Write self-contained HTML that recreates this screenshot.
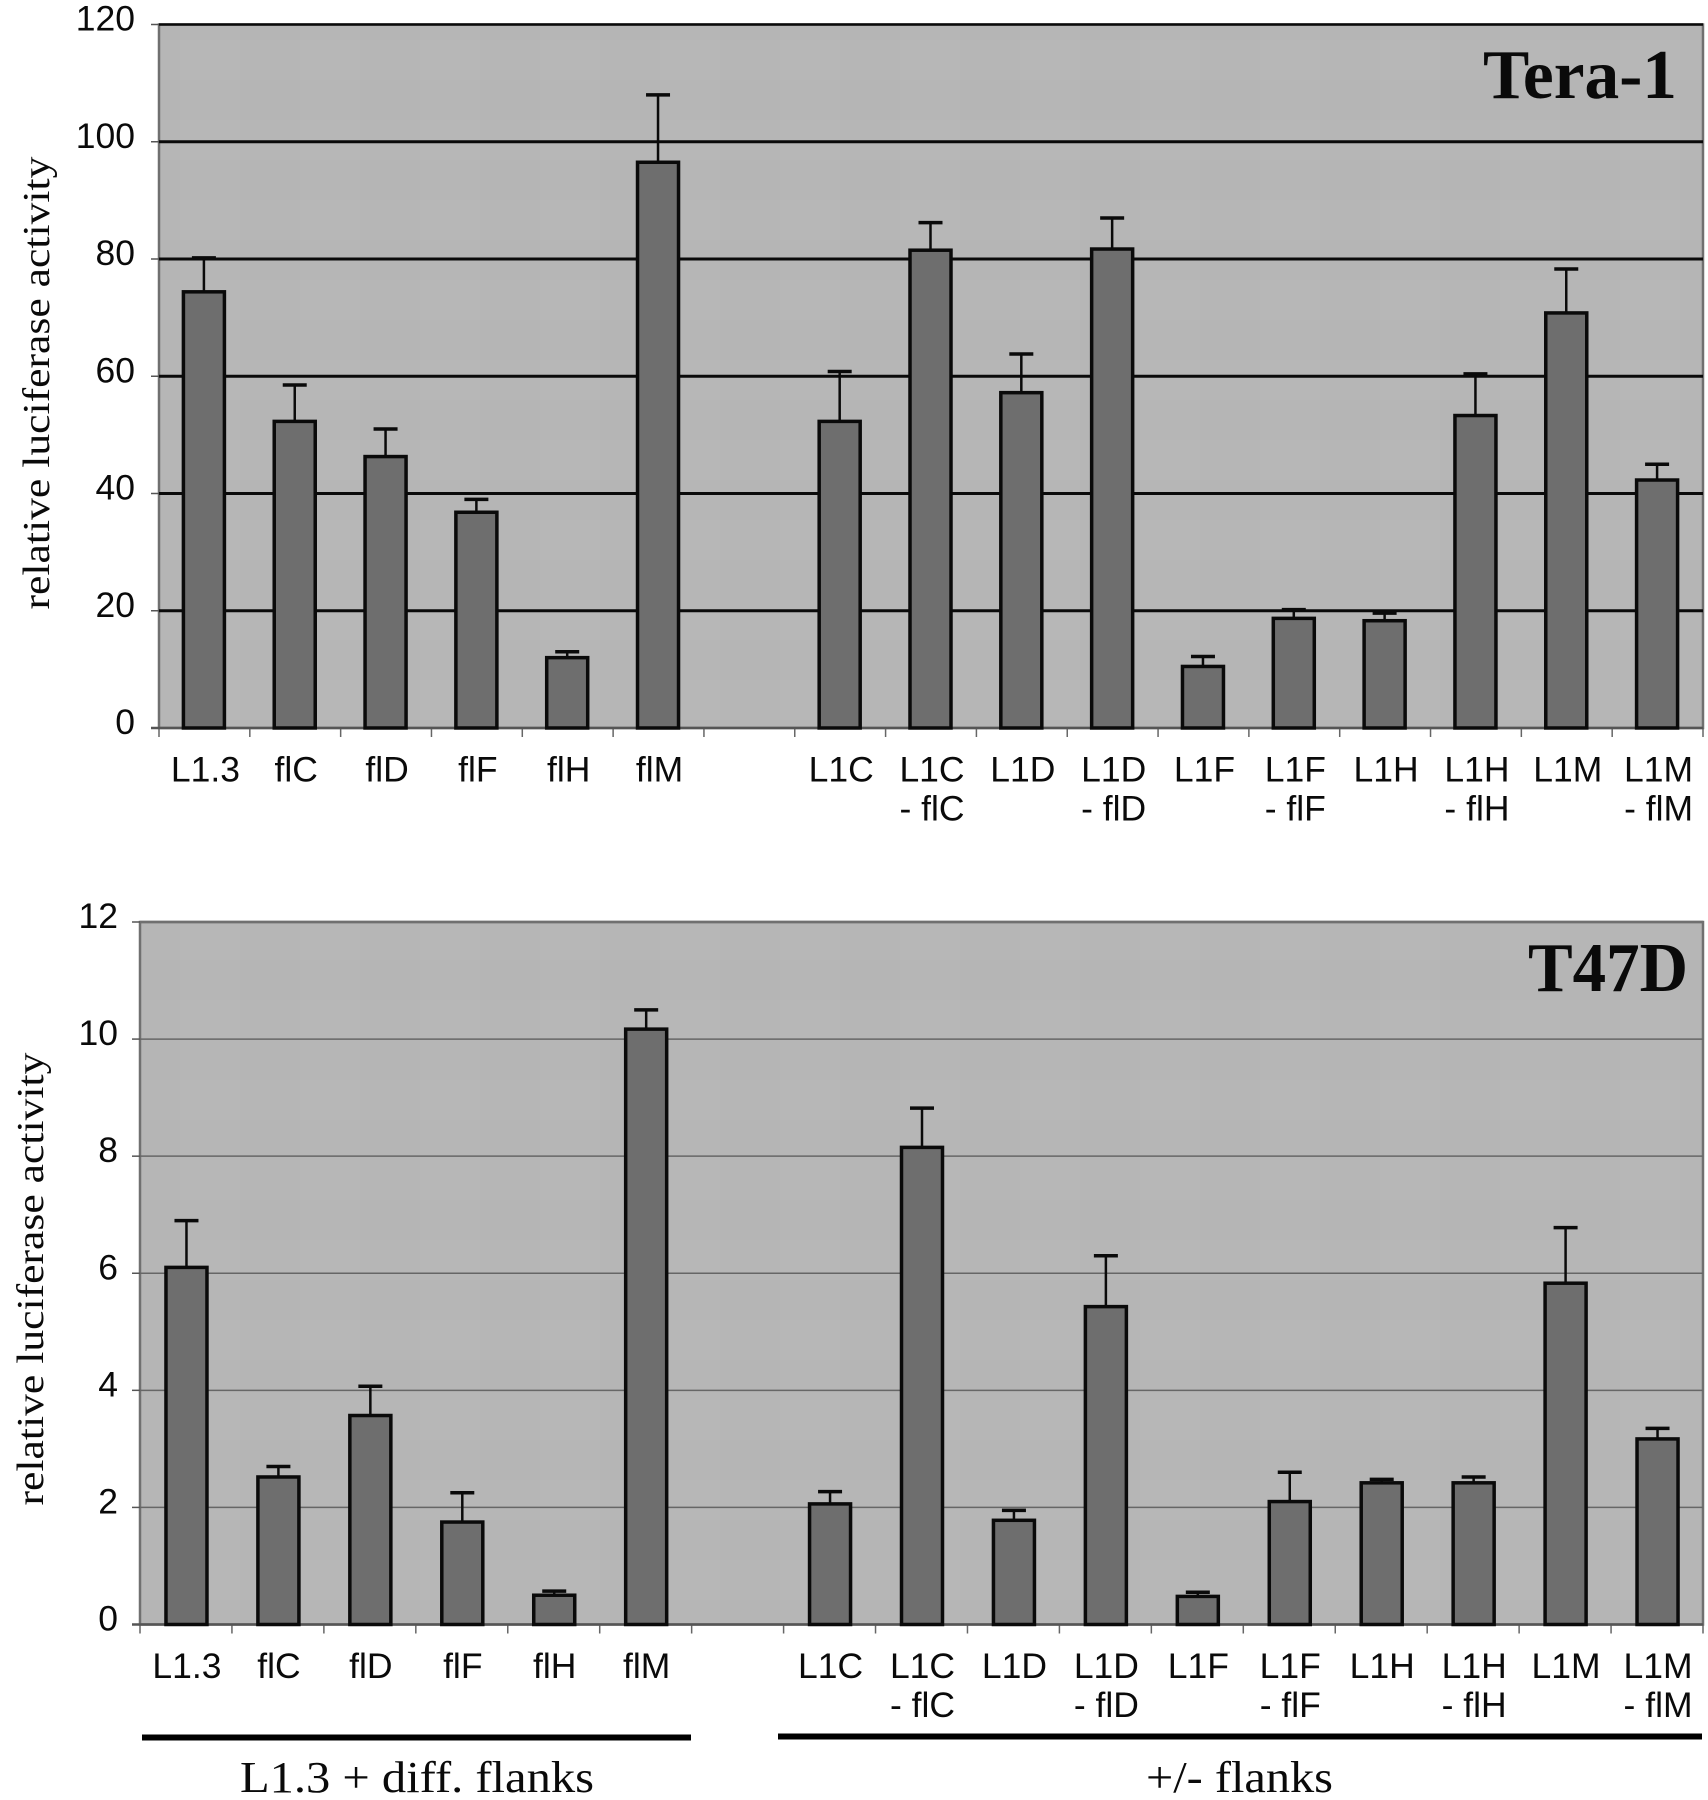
<!DOCTYPE html>
<html lang="en">
<head>
<meta charset="utf-8">
<title>Relative luciferase activity in Tera-1 and T47D</title>
<style>
  html, body { margin: 0; padding: 0; background: #ffffff; }
  body { width: 1708px; height: 1800px; overflow: hidden; }
  svg { display: block; font-variant-ligatures: none; }
  .sans { font-family: "Liberation Sans", sans-serif; fill: #0a0a0a; }
  .serif { font-family: "Liberation Serif", serif; fill: #0a0a0a; }
</style>
</head>
<body>
<svg id="figure" xmlns="http://www.w3.org/2000/svg" width="1708" height="1800" viewBox="0 0 1708 1800">
  <defs>
    <pattern id="panel-texture" width="120" height="80" patternUnits="userSpaceOnUse">
      <rect width="120" height="80" fill="#b6b6b6"></rect>
      <rect x="0" y="0" width="60" height="80" fill="#b3b3b3" opacity="0.3"></rect>
      <rect x="0" y="40" width="120" height="40" fill="#b9b9b9" opacity="0.3"></rect>
    </pattern>
  </defs>
  <g id="tera-panel"></g>
  <g id="t47d-panel"></g>
  <rect x="142" y="1734.5" width="549" height="6" fill="#000"></rect>
  <rect x="778" y="1733.5" width="924" height="6" fill="#000"></rect>
  <text class="serif" x="240" y="1792" font-size="44" textLength="354" lengthAdjust="spacingAndGlyphs">L1.3 + diff. flanks</text>
  <text class="serif" x="1146" y="1792" font-size="44" textLength="187" lengthAdjust="spacingAndGlyphs">+/- flanks</text>
</svg>
<script>
// Shared categories (an empty entry is the gap between the two groups)
const categoryLine1 = ["L1.3", "flC", "flD", "flF", "flH", "flM", "", "L1C", "L1C", "L1D", "L1D", "L1F", "L1F", "L1H", "L1H", "L1M", "L1M"];
const categoryLine2 = ["", "", "", "", "", "", "", "", "- flC", "", "- flD", "", "- flF", "", "- flH", "", "- flM"];

// Tera-1 data
const teraTicks = [0, 20, 40, 60, 80, 100, 120];
const teraValues = [74.4, 52.3, 46.3, 36.8, 12, 96.5, null, 52.3, 81.5, 57.2, 81.7, 10.5, 18.7, 18.3, 53.3, 70.8, 42.3];
const teraErrorTops = [80.2, 58.5, 51, 39, 13, 108, null, 60.8, 86.2, 63.8, 87, 12.2, 20.2, 19.6, 60.4, 78.3, 45];

// T47D data
const t47dTicks = [0, 2, 4, 6, 8, 10, 12];
const t47dValues = [6.1, 2.52, 3.57, 1.75, 0.5, 10.17, null, 2.06, 8.15, 1.78, 5.43, 0.48, 2.1, 2.42, 2.42, 5.83, 3.17];
const t47dErrorTops = [6.9, 2.7, 4.07, 2.25, 0.57, 10.5, null, 2.27, 8.82, 1.95, 6.3, 0.55, 2.6, 2.48, 2.52, 6.78, 3.35];

const SVG_NS = "http://www.w3.org/2000/svg";

function make(tag, attrs, parent) {
  const el = document.createElementNS(SVG_NS, tag);
  for (const key in attrs) el.setAttribute(key, attrs[key]);
  parent.appendChild(el);
  return el;
}

function slug(text) {
  return text.toLowerCase().replace(/[^a-z0-9]+/g, "-").replace(/^-|-$/g, "");
}

function drawPanel(root, prefix, opts, ticks, values, errorTops) {
  const yMax = ticks[ticks.length - 1];
  const yScale = v => opts.bottom - (v / yMax) * (opts.bottom - opts.top);
  const band = (opts.right - opts.left) / categoryLine1.length;
  const xBand = i => opts.left + band * i;
  const xCenter = i => xBand(i) + band / 2;

  const plot = make("rect", { x: opts.left, y: opts.top, width: opts.right - opts.left, height: opts.bottom - opts.top, fill: "url(#panel-texture)" }, root);
  
  

  const frame = make("rect", { x: opts.left, y: opts.top, width: opts.right - opts.left, height: opts.bottom - opts.top, fill: "none", stroke: "#707070", "stroke-width": 2.5 }, root);
  
  

  ticks.forEach(t => {
    const y = yScale(t);
    if (t !== 0) {
      const grid = make("line", { x1: opts.left, x2: opts.right, y1: y, y2: y, stroke: t === yMax ? opts.topLineColor : opts.gridColor, "stroke-width": t === yMax ? 2.5 : opts.gridWidth }, root);
      
      
    }
    const mark = make("line", { x1: opts.left - 8, x2: opts.left, y1: y, y2: y, stroke: "#555", "stroke-width": 1.5 }, root);
    
    
    const label = make("text", { x: opts.labelRight, y: y + 6, "text-anchor": "end", "font-size": 35.5, class: "sans" }, root);
    label.textContent = String(t);
    
    
  });

  for (let i = 0; i <= categoryLine1.length; i++) {
    const x = xBand(i);
    const mark = make("line", { x1: x, x2: x, y1: opts.bottom, y2: opts.bottom + 9, stroke: "#666", "stroke-width": 1.5 }, root);
    
    
  }

  const axis = make("line", { x1: opts.left - 8, x2: opts.right, y1: opts.bottom, y2: opts.bottom, stroke: "#555", "stroke-width": 2.5 }, root);
  
  

  values.forEach((v, i) => {
    if (v === null) return;
    const name = slug(categoryLine1[i] + " " + categoryLine2[i]);
    const cx = xCenter(i) - opts.barShift;
    const yTop = yScale(v);
    const yErr = yScale(errorTops[i]);

    const stem = make("line", { x1: cx, x2: cx, y1: yTop, y2: yErr, stroke: "#0a0a0a", "stroke-width": 2.5 }, root);
    
    

    const cap = make("line", { x1: cx - 12, x2: cx + 12, y1: yErr, y2: yErr, stroke: "#0a0a0a", "stroke-width": 3.5 }, root);
    
    

    const bar = make("rect", { x: cx - opts.barWidth / 2, y: yTop, width: opts.barWidth, height: opts.bottom - yTop, fill: "#6e6e6e", stroke: "#0a0a0a", "stroke-width": 3.5 }, root);
    
    
  });

  categoryLine1.forEach((text, i) => {
    if (!text) return;
    const name = slug(text + " " + categoryLine2[i]);
    const label = make("text", { x: xCenter(i) + 1, y: opts.labelY, "text-anchor": "middle", "font-size": 35.5, class: "sans" }, root);
    label.textContent = text;
    
    
    if (categoryLine2[i]) {
      const sub = make("text", { x: xCenter(i) + 1, y: opts.labelY + 39, "text-anchor": "middle", "font-size": 35.5, class: "sans" }, root);
      sub.textContent = categoryLine2[i];
      
      
    }
  });

  const axisTitle = make("text", {
    x: 0, y: 0, "text-anchor": "middle", "font-size": 38, class: "serif",
    textLength: 453, lengthAdjust: "spacingAndGlyphs",
    transform: "translate(" + opts.titleX + " " + opts.titleY + ") rotate(-90)"
  }, root);
  axisTitle.textContent = "relative luciferase activity";
  
  

  const heading = make("text", { x: opts.headX, y: opts.headY, "font-size": 70, "font-weight": "bold", class: "serif", textLength: opts.headWidth, lengthAdjust: "spacingAndGlyphs" }, root);
  heading.textContent = opts.heading;
  
  
}

drawPanel(document.getElementById("tera-panel"), "tera", {
  left: 159, right: 1703, top: 24.5, bottom: 728, barWidth: 41, barShift: 0.5,
  gridColor: "#0a0a0a", topLineColor: "#0a0a0a", gridWidth: 3, labelRight: 135, labelY: 781.5,
  titleX: 49, titleY: 383, heading: "Tera-1", headX: 1483, headY: 98, headWidth: 194
}, teraTicks, teraValues, teraErrorTops);

drawPanel(document.getElementById("t47d-panel"), "t47d", {
  left: 140, right: 1703, top: 922, bottom: 1624.5, barWidth: 41, barShift: -0.5,
  gridColor: "#666666", topLineColor: "#707070", gridWidth: 1.5, labelRight: 118, labelY: 1678,
  titleX: 43, titleY: 1279, heading: "T47D", headX: 1528, headY: 991, headWidth: 160
}, t47dTicks, t47dValues, t47dErrorTops);
</script>
</body>
</html>
